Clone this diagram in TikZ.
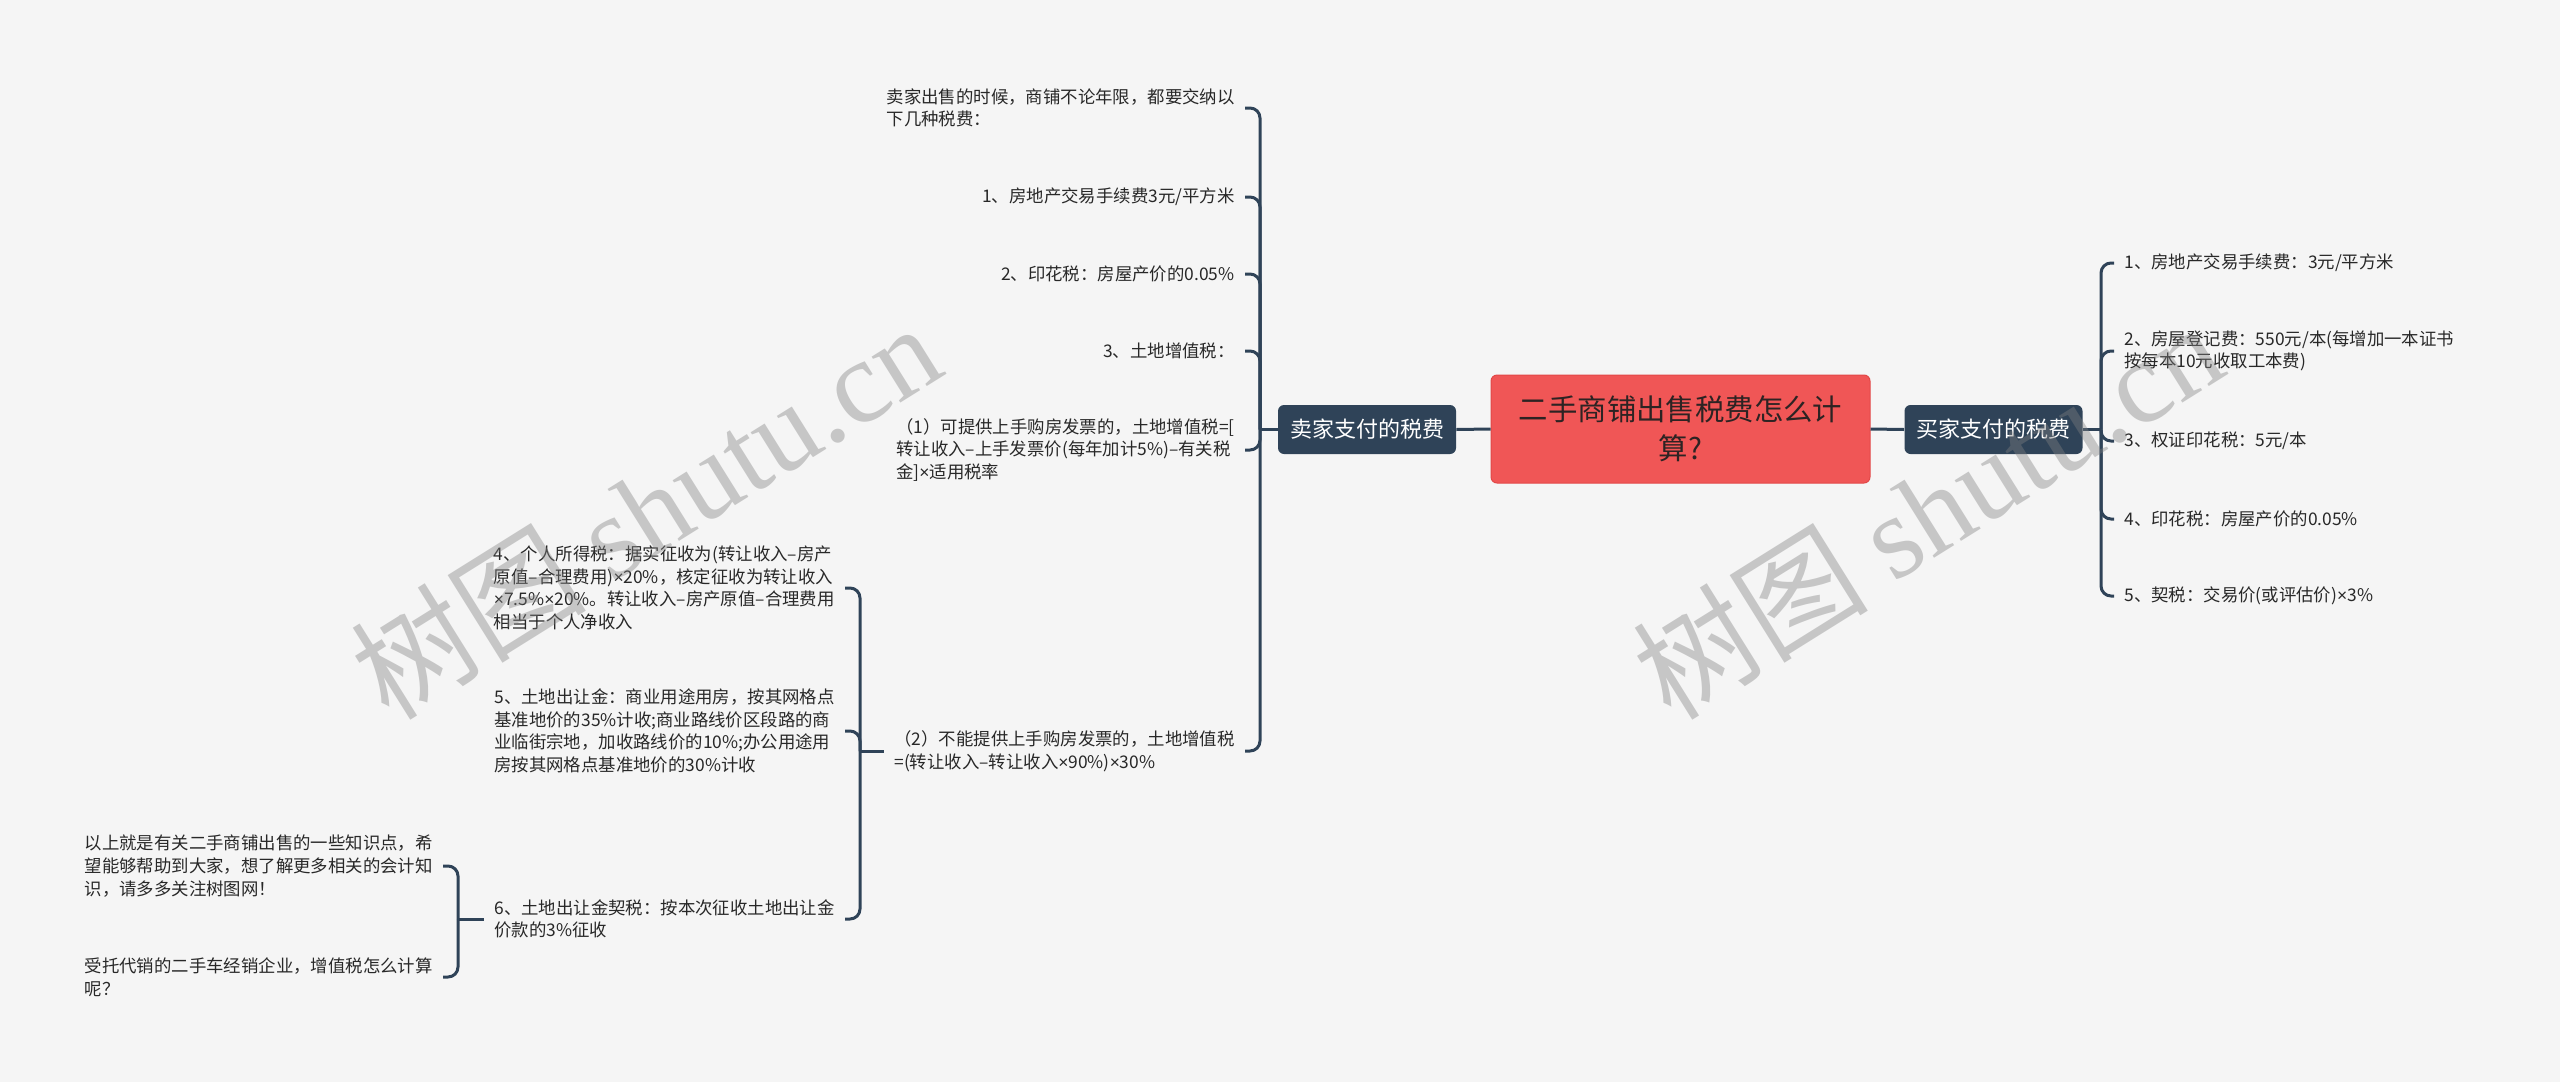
\documentclass[tikz,border=0pt]{standalone}
\usepackage{fontspec}
\setmainfont{Noto Sans CJK SC}
\newfontfamily\wmserif{Liberation Serif}
\newfontfamily\latinf{Liberation Sans}
\newcommand\tms{{\latinf ×}}
\usetikzlibrary{calc}
\definecolor{bg}{RGB}{245,245,245}
\definecolor{linec}{RGB}{47,67,88}
\definecolor{rootred}{RGB}{240,86,86}
\definecolor{rootborder}{RGB}{226,72,72}
\definecolor{txt}{RGB}{40,40,40}
\definecolor{roottxt}{RGB}{45,35,35}
\tikzset{
 conn/.style={draw=linec, line width=1.5pt, rounded corners=5pt},
 leaf/.style={font=\fontsize{8.7pt}{11.3pt}\selectfont, text=txt, align=left, inner xsep=5pt, inner ysep=2pt},
 lleaf/.style={leaf, anchor=east},
 rleaf/.style={leaf, anchor=west},
 mainbox/.style={fill=linec, text=white, rounded corners=3pt, font=\fontsize{11pt}{13pt}\selectfont, minimum width=89pt, minimum height=24.5pt, inner sep=0pt},
 rootbox/.style={fill=rootred, draw=rootborder, line width=0.5pt, rounded corners=3pt, text=roottxt, font=\fontsize{14.7pt}{19.5pt}\selectfont, minimum width=189.5pt, minimum height=54pt, align=center, inner sep=0pt},
 wmark/.style={rotate=32, text=gray, opacity=0.4, font=\fontsize{59pt}{66pt}\selectfont}
}
\begin{document}
\begin{tikzpicture}[x=0.5pt,y=-0.5pt]
\useasboundingbox[fill=bg] (0,0) rectangle (2560,1082);

\node[rootbox] (root) at (1680.5,429) {二手商铺出售税费怎么计\\算?};
\node[mainbox] (seller) at (1367,429.5) {卖家支付的税费};
\node[mainbox] (buyer) at (1993.5,429.5) {买家支付的税费};

% seller children
\node[lleaf] (s0) at (1245,108) {卖家出售的时候，商铺不论年限，都要交纳以\\下几种税费：};
\node[lleaf] (s1) at (1245,197) {1、房地产交易手续费3元/平方米};
\node[lleaf] (s2) at (1245,274) {2、印花税：房屋产价的0.05\%};
\node[lleaf] (s3) at (1245,351) {3、土地增值税：};
\node[lleaf] (s4) at (1245,450) {（1）可提供上手购房发票的，土地增值税=[\\转让收入–上手发票价(每年加计5\%)–有关税\\金]\tms 适用税率};
\node[lleaf] (s5) at (1245,751) {（2）不能提供上手购房发票的，土地增值税\\=(转让收入–转让收入\tms 90\%)\tms 30\%};

% children of (2)
\node[lleaf] (t4) at (845,588) {4、个人所得税：据实征收为(转让收入–房产\\原值–合理费用)\tms 20\%，核定征收为转让收入\\\tms 7.5\%\tms 20\%。转让收入–房产原值–合理费用\\相当于个人净收入};
\node[lleaf] (t5) at (845,731) {5、土地出让金：商业用途用房，按其网格点\\基准地价的35\%计收;商业路线价区段路的商\\业临街宗地，加收路线价的10\%;办公用途用\\房按其网格点基准地价的30\%计收};
\node[lleaf] (t6) at (845,919) {6、土地出让金契税：按本次征收土地出让金\\价款的3\%征收};

% children of 6
\node[lleaf] (u1) at (443,866) {以上就是有关二手商铺出售的一些知识点，希\\望能够帮助到大家，想了解更多相关的会计知\\识，请多多关注树图网！};
\node[lleaf] (u2) at (443,977) {受托代销的二手车经销企业，增值税怎么计算\\呢？};

% buyer children
\node[rleaf] (b1) at (2114,263) {1、房地产交易手续费：3元/平方米};
\node[rleaf] (b2) at (2114,351) {2、房屋登记费：550元/本(每增加一本证书\\按每本10元收取工本费)};
\node[rleaf] (b3) at (2114,441) {3、权证印花税：5元/本};
\node[rleaf] (b4) at (2114,519) {4、印花税：房屋产价的0.05\%};
\node[rleaf] (b5) at (2114,596) {5、契税：交易价(或评估价)\tms 3\%};

% connectors
\draw[conn] (root.west) -- (seller.east);
\draw[conn] (root.east) -- (buyer.west);

\coordinate (sj) at (1260,429.5);
\draw[conn] (seller.west) -- (sj);
\foreach \c in {s0,s1,s2,s3,s4,s5} \draw[conn] (sj) |- (\c.east);

\coordinate (tj) at (860,751);
\draw[conn] (s5.west) -- (tj);
\foreach \c in {t4,t5,t6} \draw[conn] (tj) |- (\c.east);

\coordinate (uj) at (458,919);
\draw[conn] (t6.west) -- (uj);
\foreach \c in {u1,u2} \draw[conn] (uj) |- (\c.east);

\coordinate (bj) at (2101,429.5);
\draw[conn] (buyer.east) -- (bj);
\foreach \c in {b1,b2,b3,b4,b5} \draw[conn] (bj) |- (\c.west);

% watermarks
\node[wmark] (wm1) at (645,510) {树图 {\wmserif shutu.cn}};
\node[wmark] (wm2) at (1927,510) {树图 {\wmserif shutu.cn}};
\end{tikzpicture}
\end{document}
